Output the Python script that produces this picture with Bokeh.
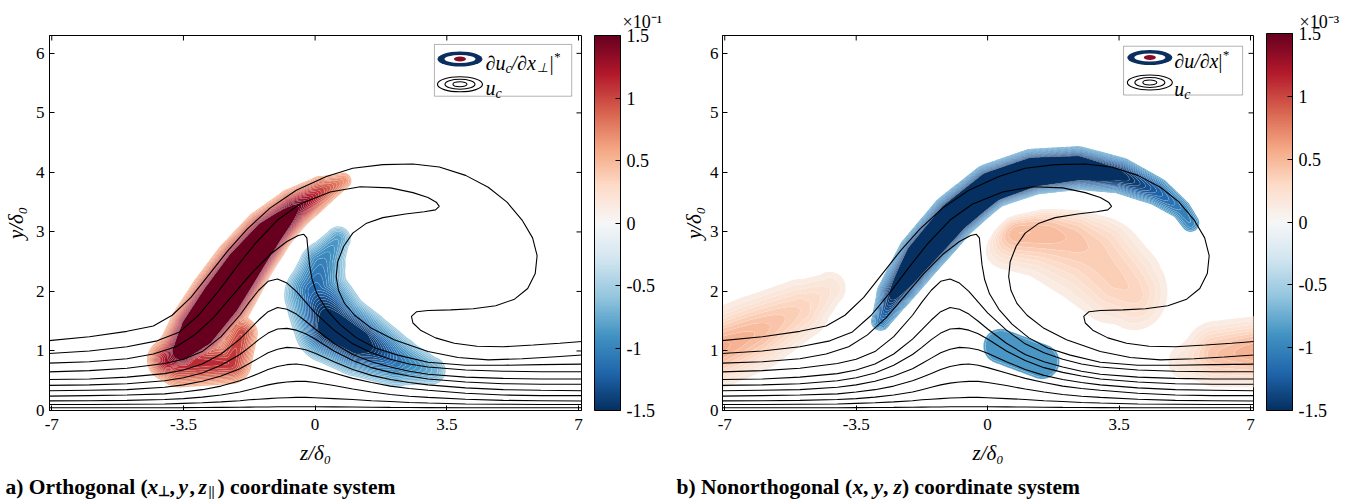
import numpy as np
from bokeh.plotting import figure
from bokeh.models import (Range1d, FixedTicker, ColorBar, LinearColorMapper,
                          BoxAnnotation, CustomJSTickFormatter)
from bokeh.layouts import row, column
from bokeh.embed import file_html
from bokeh.resources import INLINE
from bokeh.core.properties import value

# ------------------------------------------------------------------ data
Z_TICKS = [-7, -3.5, 0, 3.5, 7]
Y_TICKS = [0, 1, 2, 3, 4, 5, 6]
CB_TICKS = [-1.5, -1, -0.5, 0, 0.5, 1, 1.5]
Z_RANGE = (-7.06, 7.08)
Y_RANGE = (0.0, 6.3)
CB_LOW, CB_HIGH = -1.5, 1.5
RDBU = ["#053061", "#2166ac", "#4393c3", "#92c5de", "#d1e5f0", "#f7f7f7",
        "#fddbc7", "#f4a582", "#d6604d", "#b2182b", "#67001f"]

# u_c iso-lines, z/delta0 and y/delta0
UC1_Z = [-7.3, -6, -5, -4.3, -3.8, -3.3, -2.8, -2.3, -1.8, -1.2, -0.5, 0.3, 1.0, 1.8, 2.6, 3.3,
         4.0, 4.6, 5.1, 5.5, 5.78, 5.9, 5.85, 5.65, 5.3, 4.8, 4.2, 3.6, 3.0, 2.7, 2.56, 2.6,
         2.8, 3.2, 3.7, 4.3, 5.0, 5.8, 6.5, 7.3]
UC1_Y = [1.16, 1.24, 1.33, 1.42, 1.6, 1.9, 2.3, 2.7, 3.05, 3.4, 3.7, 3.93, 4.07, 4.13, 4.14, 4.09,
         3.95, 3.75, 3.5, 3.2, 2.9, 2.6, 2.3, 2.05, 1.87, 1.76, 1.71, 1.69, 1.68, 1.66, 1.58, 1.47,
         1.35, 1.22, 1.13, 1.08, 1.07, 1.1, 1.13, 1.17]
UC2_Z = [-7.3, -6, -5, -4.2, -3.6, -3.1, -2.6, -2.1, -1.6, -1.0, -0.4, 0.4, 1.2, 2.0, 2.6, 3.0,
         3.22, 3.3, 3.2, 2.9, 2.4, 1.8, 1.35, 1.0, 0.76, 0.6, 0.56, 0.62, 0.78, 1.05, 1.5, 2.1,
         3.0, 3.8, 4.6, 5.5, 6.3, 7.3]
UC2_Y = [0.95, 1.0, 1.07, 1.17, 1.32, 1.6, 1.98, 2.4, 2.8, 3.2, 3.47, 3.67, 3.76, 3.74, 3.66, 3.58,
         3.5, 3.43, 3.37, 3.34, 3.3, 3.24, 3.14, 2.98, 2.76, 2.5, 2.25, 2.02, 1.8, 1.6, 1.38, 1.19,
         0.99, 0.89, 0.85, 0.87, 0.9, 0.94]
UC3_Z = [-7.3, -6, -5, -4.3, -3.7, -3.2, -2.7, -2.2, -1.7, -1.2, -0.75, -0.45, -0.3, -0.22, -0.19,
         -0.15, -0.08, 0.05, 0.3, 0.65, 1.1, 1.6, 2.2, 3.0, 4.0, 5.0, 6.0, 7.3]
UC3_Y = [0.79, 0.82, 0.87, 0.95, 1.07, 1.27, 1.56, 1.93, 2.3, 2.62, 2.84, 2.94, 2.96, 2.9, 2.7,
         2.45, 2.2, 1.96, 1.7, 1.45, 1.22, 1.05, 0.93, 0.81, 0.76, 0.76, 0.77, 0.78]
UC_BUMP_Z = [-7.3, -6, -5, -4, -3.5, -3, -2.5, -2, -1.75, -1.5, -1.25, -1, -0.75, -0.5, -0.25,
             0, 0.5, 1, 1.5, 2, 2.5, 3, 4, 5, 6, 7.3]
UC4_Y = [0.645, 0.67, 0.71, 0.79, 0.86, 0.99, 1.24, 1.6, 1.82, 2.02, 2.17, 2.21, 2.14, 2.0, 1.82,
         1.64, 1.35, 1.12, 0.97, 0.86, 0.78, 0.73, 0.68, 0.66, 0.65, 0.65]
UC5_Y = [0.52, 0.53, 0.56, 0.62, 0.68, 0.78, 0.95, 1.2, 1.36, 1.52, 1.66, 1.73, 1.7, 1.62, 1.5,
         1.37, 1.13, 0.94, 0.82, 0.73, 0.66, 0.61, 0.56, 0.54, 0.53, 0.53]
UC6_Y = [0.42, 0.43, 0.45, 0.5, 0.55, 0.63, 0.76, 0.94, 1.06, 1.19, 1.3, 1.37, 1.38, 1.35, 1.29,
         1.2, 1.0, 0.84, 0.72, 0.64, 0.58, 0.53, 0.48, 0.45, 0.44, 0.44]
UC7_Y = [0.33, 0.34, 0.35, 0.39, 0.43, 0.49, 0.58, 0.7, 0.79, 0.88, 0.97, 1.03, 1.06, 1.05, 1.02,
         0.96, 0.82, 0.69, 0.59, 0.52, 0.47, 0.43, 0.38, 0.35, 0.34, 0.33]
UC8_Y = [0.24, 0.25, 0.26, 0.28, 0.31, 0.35, 0.41, 0.5, 0.56, 0.62, 0.69, 0.74, 0.77, 0.78, 0.76,
         0.72, 0.63, 0.54, 0.47, 0.41, 0.37, 0.34, 0.29, 0.26, 0.25, 0.25]
UC9_Y = [0.16, 0.165, 0.17, 0.185, 0.2, 0.225, 0.26, 0.31, 0.35, 0.39, 0.43, 0.46, 0.48, 0.49, 0.49,
         0.47, 0.42, 0.36, 0.31, 0.27, 0.24, 0.22, 0.19, 0.17, 0.165, 0.16]
UC10_Y = [0.1, 0.1, 0.105, 0.11, 0.12, 0.13, 0.145, 0.165, 0.18, 0.19, 0.2, 0.21, 0.215, 0.22,
          0.22, 0.215, 0.2, 0.185, 0.165, 0.15, 0.135, 0.125, 0.11, 0.105, 0.1, 0.1]
UC11_Y = [0.045, 0.045, 0.045, 0.047, 0.048, 0.05, 0.052, 0.055, 0.057, 0.059, 0.06, 0.062, 0.063,
          0.064, 0.064, 0.063, 0.061, 0.058, 0.055, 0.052, 0.05, 0.048, 0.046, 0.045, 0.045, 0.045]

# (a) du_c/dx_perp structures: ridge points (z, y), peak value, half-width (px)
A_RED_Z = [-3.9, -3.55, -3.1, -2.5, -1.9, -1.25, -0.55, 0.15, 0.75]
A_RED_Y = [0.85, 1.0, 1.35, 1.87, 2.42, 2.95, 3.38, 3.68, 3.86]
A_RED_V = [1.3, 1.8, 2.6, 2.8, 2.7, 2.3, 1.6, 1.05, 0.7]
A_RED_W = [22, 22, 24, 25, 24, 22, 20, 18, 14]
A_LOW_Z = [-3.6, -2.25, -1.95]
A_LOW_Y = [0.8, 0.8, 1.3]
A_LOW_V = [1.15, 1.1, 1.0]
A_LOW_W = [27, 24, 20]
A_BLUE_Z = [0.6, 0.15, 0.0, 0.45, 1.15, 2.15, 3.1]
A_BLUE_Y = [2.88, 2.45, 2.0, 1.42, 1.15, 0.83, 0.67]
A_BLUE_V = [-0.85, -1.05, -1.2, -1.8, -1.75, -1.1, -0.75]
A_BLUE_W = [18, 29, 35, 34, 31, 29, 22]
A_LEVEL_MIN = 0.5

# (b) du/dx structures
B_ARC_Z = [-2.85, -2.5, -1.8, -0.9, 0.1, 1.2, 2.4, 3.5, 4.5, 5.15, 5.4]
B_ARC_Y = [1.5, 1.95, 2.6, 3.25, 3.75, 4.0, 4.07, 3.95, 3.68, 3.38, 3.15]
B_ARC_V = [-1.1, -1.6, -2.2, -2.4, -2.4, -2.3, -2.0, -1.6, -1.25, -1.05, -1.0]
B_ARC_W = [17, 21, 23, 23, 23, 23, 23, 22, 21, 19, 19]
B_EGG_Z = [0.35, 1.45]
B_EGG_Y = [1.08, 0.82]
B_EGG_V = [-0.9, -0.9]
B_EGG_W = [25, 25]
B_MID_Z = [0.6, 1.6, 2.6, 3.3, 3.9]
B_MID_Y = [2.9, 2.85, 2.55, 2.1, 1.85]
B_MID_V = [0.3, 0.32, 0.3, 0.3, 0.26]
B_MID_W = [30, 36, 42, 36, 30]
B_TOP_Z = [0.8, 2.2]
B_TOP_Y = [3.1, 3.02]
B_TOP_V = [0.24, 0.16]
B_TOP_W = [24, 24]
B_SIDE_Z = [3.3, 4.0]
B_SIDE_Y = [2.75, 2.3]
B_SIDE_V = [0.12, 0.12]
B_SIDE_W = [30, 30]
B_LEFT_Z = [-7.5, -6.2, -5.0, -4.2]
B_LEFT_Y = [0.95, 1.3, 1.7, 2.05]
B_LEFT_V = [0.6, 0.5, 0.35, 0.2]
B_LEFT_W = [29, 30, 27, 20]
B_RIGHT_Z = [5.3, 6.1, 7.5]
B_RIGHT_Y = [0.82, 0.95, 1.0]
B_RIGHT_V = [0.2, 0.45, 0.6]
B_RIGHT_W = [22, 27, 27]
B_LEVEL_MIN = 0.1
B_LEVEL_NEG = -0.8

FONT = "Liberation Serif"

# ------------------------------------------------------------------ helpers
def hex2rgb(h):
    return np.array([int(h[i:i + 2], 16) for i in (1, 3, 5)], dtype=float)


ANCH = np.array([hex2rgb(c) for c in RDBU])


def cmap(v):
    t = (min(max(v, CB_LOW), CB_HIGH) - CB_LOW) / (CB_HIGH - CB_LOW) * (len(RDBU) - 1)
    i = min(int(t), len(RDBU) - 2)
    f = t - i
    c = ANCH[i] * (1 - f) + ANCH[i + 1] * f
    return "#%02x%02x%02x" % tuple(int(round(x)) for x in c)


PALETTE = [cmap(CB_LOW + (CB_HIGH - CB_LOW) * k / 255) for k in range(256)]

SX, SY = 37.7, 59.6
GZ1 = np.linspace(-7.5, 7.5, 451)
GY1 = np.linspace(-0.3, 6.6, 211)
GZ, GY = np.meshgrid(GZ1, GY1)
PX, PY = GZ * SX, GY * SY


def ridge(zs, ys, vs, ws, power=2.0):
    best = np.zeros_like(PX)
    for i in range(len(zs) - 1):
        ax, ay = zs[i] * SX, ys[i] * SY
        bx, by = zs[i + 1] * SX, ys[i + 1] * SY
        dx, dy = bx - ax, by - ay
        t = np.clip(((PX - ax) * dx + (PY - ay) * dy) / (dx * dx + dy * dy), 0, 1)
        d = np.hypot(PX - (ax + t * dx), PY - (ay + t * dy))
        a = vs[i] + t * (vs[i + 1] - vs[i])
        w = ws[i] + t * (ws[i + 1] - ws[i])
        v = a * np.exp(-(d / w) ** power)
        best = np.where(np.abs(v) > np.abs(best), v, best)
    return best


def band_levels(lo, hi, step=0.05):
    n = int(round((hi - lo) / step))
    return [round(lo + k * step, 4) for k in range(n + 1)]


def add_fills(p, field, pos_min, neg_max):
    pos = band_levels(pos_min, CB_HIGH) + [99.0]
    pcol = [cmap(min((pos[i] + pos[i + 1]) / 2, CB_HIGH)) for i in range(len(pos) - 1)]
    p.contour(GZ1, GY1, field, levels=pos, fill_color=pcol,
              line_color="white", line_alpha=0.3, line_width=0.5)
    neg = [-99.0] + band_levels(CB_LOW, neg_max)
    ncol = [cmap(max((neg[i] + neg[i + 1]) / 2, CB_LOW)) for i in range(len(neg) - 1)]
    p.contour(GZ1, GY1, field, levels=neg, fill_color=ncol,
              line_color="white", line_alpha=0.3, line_width=0.5)


def add_uc_lines(p):
    xs = [UC1_Z, UC2_Z, UC3_Z] + [UC_BUMP_Z] * 8
    ys = [UC1_Y, UC2_Y, UC3_Y, UC4_Y, UC5_Y, UC6_Y, UC7_Y, UC8_Y, UC9_Y, UC10_Y, UC11_Y]
    p.multi_line(xs=xs, ys=ys, line_color="black", line_width=1.1)


FMT = CustomJSTickFormatter(code="return tick.toString();")


def make_fig(width, left, right, top, frame_h, ylab_standoff, exp_text, exp_offset):
    p = figure(width=width, height=472, x_range=Range1d(*Z_RANGE), y_range=Range1d(*Y_RANGE),
               output_backend="svg", toolbar_location=None, title=exp_text,
               min_border_left=left, min_border_right=right, min_border_top=top,
               min_border_bottom=62, background_fill_color="white", border_fill_color="white")
    p.title.align = "left"
    p.title.offset = exp_offset
    p.title.text_font = FONT
    p.title.text_font_size = "18px"
    p.title.text_font_style = "normal"
    p.title.text_color = "black"
    p.title.standoff = 7
    p.grid.visible = False
    p.outline_line_color = "black"
    p.outline_line_width = 1
    p.outline_line_alpha = 1
    p.xaxis.ticker = FixedTicker(ticks=Z_TICKS)
    p.yaxis.ticker = FixedTicker(ticks=Y_TICKS)
    for ax in (p.xaxis[0], p.yaxis[0]):
        ax.formatter = FMT
        ax.major_tick_in = 5
        ax.major_tick_out = 0
        ax.minor_tick_line_color = None
        ax.axis_line_color = "black"
        ax.major_tick_line_color = "black"
        ax.major_label_text_font = FONT
        ax.major_label_text_font_size = "17px"
        ax.major_label_text_color = "black"
        ax.axis_label_text_font = FONT
        ax.axis_label_text_font_size = "21px"
        ax.axis_label_text_font_style = "italic"
        ax.axis_label_text_color = "black"
    p.xaxis[0].axis_label = "z/δ₀"
    p.xaxis[0].major_label_standoff = 8
    p.xaxis[0].axis_label_standoff = 8
    p.yaxis[0].axis_label = "y/δ₀"
    p.yaxis[0].axis_label_standoff = ylab_standoff
    p.yaxis[0].major_label_standoff = 5
    # mirrored inward ticks on the top and right frame edges
    ppx = (width - left - right) / (Z_RANGE[1] - Z_RANGE[0])
    ppy = frame_h / (Y_RANGE[1] - Y_RANGE[0])
    p.segment(x0=Z_TICKS, x1=Z_TICKS, y0=[Y_RANGE[1]] * len(Z_TICKS),
              y1=[Y_RANGE[1] - 5 / ppy] * len(Z_TICKS), line_color="black", line_width=1)
    p.segment(x0=[Z_RANGE[1]] * len(Y_TICKS), x1=[Z_RANGE[1] - 5 / ppx] * len(Y_TICKS),
              y0=Y_TICKS, y1=Y_TICKS, line_color="black", line_width=1)
    return p


def add_colorbar(p, height):
    mapper = LinearColorMapper(palette=PALETTE, low=CB_LOW, high=CB_HIGH)
    cb = ColorBar(color_mapper=mapper, ticker=FixedTicker(ticks=CB_TICKS), formatter=FMT,
                  width=26, height=height, location=(13, 0), padding=0, margin=0,
                  major_label_text_font=FONT, major_label_text_font_size="18px",
                  major_label_text_color="black", label_standoff=6,
                  major_tick_in=5, major_tick_out=0, major_tick_line_color="black",
                  minor_tick_line_color=None, bar_line_color="black", bar_line_width=1,
                  border_line_color=None, background_fill_color=None)
    p.add_layout(cb, "right")


def legend(p, box, icon_z, icon_y1, icon_y2, text_z, base1, base2, pieces1, ppy):
    p.add_layout(BoxAnnotation(left=box[0], right=box[1], top=box[2], bottom=box[3],
                               fill_color="white", fill_alpha=1, line_color="black",
                               line_width=1, level="underlay"))
    p.ellipse(x=[icon_z] * 3, y=[icon_y1] * 3, width=[45, 31, 12], height=[15, 8, 5],
              width_units="screen", height_units="screen",
              fill_color=["#0a2f5f", "white", "#8a0b20"], line_color=None)
    p.ellipse(x=[icon_z] * 3, y=[icon_y2] * 3, width=[45, 30, 14], height=[15, 10, 5],
              width_units="screen", height_units="screen",
              fill_color=None, line_color="black", line_width=1.1)
    xs, ys, ts, xo, fs = [], [], [], [], []
    rows = [(base1, pieces1), (base2, [("u", 0, 0, 20), ("c", 10, 5, 14)])]
    for base, pieces in rows:
        for (t, dx, dy, fsz) in pieces:   # dy: screen pixels, positive = down
            xs.append(text_z); ys.append(base - dy / ppy); ts.append(t); xo.append(dx)
            fs.append("%dpx" % fsz)
    p.text(x=xs, y=ys, text=ts, x_offset=xo, text_font_size=fs, text_font=value(FONT),
           text_font_style="italic", text_baseline="alphabetic", text_align="left",
           text_color="black")


# ------------------------------------------------------------------ panel (a)
pa = make_fig(678, 49, 97, 35, 375, 5, "×10⁻¹", 573)
field_a = (np.maximum(ridge(A_RED_Z, A_RED_Y, A_RED_V, A_RED_W),
                      ridge(A_LOW_Z, A_LOW_Y, A_LOW_V, A_LOW_W))
           + ridge(A_BLUE_Z, A_BLUE_Y, A_BLUE_V, A_BLUE_W))
add_fills(pa, field_a, A_LEVEL_MIN, -A_LEVEL_MIN)
add_uc_lines(pa)
add_colorbar(pa, 375)
legend(pa, (3.17, 6.82, 6.15, 5.28), 3.85, 5.905, 5.48, 4.53, 5.83, 5.41,
       [("∂u", 0, 0, 20), ("c", 20, 5, 14), ("/∂x", 26, 0, 20), ("⊥", 51, 4, 13),
        ("|", 63, 0, 20), ("*", 68, -7, 13)], 375 / 6.3)

# ------------------------------------------------------------------ panel (b)
pb = make_fig(677, 39, 102, 33, 377, 1, "×10⁻³", 577)
pb.yaxis[0].major_label_standoff = 4
pink_mid = (ridge(B_MID_Z, B_MID_Y, B_MID_V, B_MID_W)
            + ridge(B_TOP_Z, B_TOP_Y, B_TOP_V, B_TOP_W)
            + ridge(B_SIDE_Z, B_SIDE_Y, B_SIDE_V, B_SIDE_W))
field_b = (np.maximum.reduce([pink_mid,
                              ridge(B_LEFT_Z, B_LEFT_Y, B_LEFT_V, B_LEFT_W),
                              ridge(B_RIGHT_Z, B_RIGHT_Y, B_RIGHT_V, B_RIGHT_W)])
           + np.minimum(ridge(B_ARC_Z, B_ARC_Y, B_ARC_V, B_ARC_W),
                        ridge(B_EGG_Z, B_EGG_Y, B_EGG_V, B_EGG_W, power=6.0)))
add_fills(pb, field_b, B_LEVEL_MIN, B_LEVEL_NEG)
add_uc_lines(pb)
add_colorbar(pb, 377)
legend(pb, (3.62, 6.79, 6.12, 5.30), 4.32, 5.93, 5.51, 4.97, 5.87, 5.40,
       [("∂u/∂x", 0, 0, 20), ("|", 43, 0, 20), ("*", 48, -7, 13)], 377 / 6.3)

# ------------------------------------------------------------------ captions strip
CAP_PIECES = [
    ("a) Orthogonal (", 5, 0, 21.5, "bold"), ("x", 147, 0, 21.5, "bold italic"),
    ("⊥", 157.5, -5, 14, "bold"), (",", 169, 0, 21.5, "bold"),
    ("y", 178, 0, 21.5, "bold italic"), (",", 189, 0, 21.5, "bold"),
    ("z", 198, 0, 21.5, "bold italic"), ("||", 208, -5, 14, "bold"),
    (") coordinate system", 217, 0, 21.5, "bold"),
    ("b) Nonorthogonal (", 676, 0, 21.5, "bold"), ("x", 852, 0, 21.5, "bold italic"),
    (",", 862.5, 0, 21.5, "bold"), ("y", 873, 0, 21.5, "bold italic"),
    (",", 882.5, 0, 21.5, "bold"), ("z", 893, 0, 21.5, "bold italic"),
    (") coordinate system", 901.5, 0, 21.5, "bold"),
]
cap = figure(width=1355, height=28, x_range=Range1d(0, 1355), y_range=Range1d(0, 28),
             output_backend="svg", toolbar_location=None, min_border=0,
             x_axis_location=None, y_axis_location=None, outline_line_color=None)
cap.grid.visible = False
cap.text(x=[c[1] for c in CAP_PIECES], y=[14 + c[2] for c in CAP_PIECES],
         text=[c[0] for c in CAP_PIECES], text_font=value(FONT),
         text_font_size=["%gpx" % c[3] for c in CAP_PIECES],
         text_font_style=[c[4] for c in CAP_PIECES], text_baseline="alphabetic",
         text_align="left", text_color="black")

layout = column(row(pa, pb), cap)
open("out.html", "w").write(file_html(layout, INLINE))
